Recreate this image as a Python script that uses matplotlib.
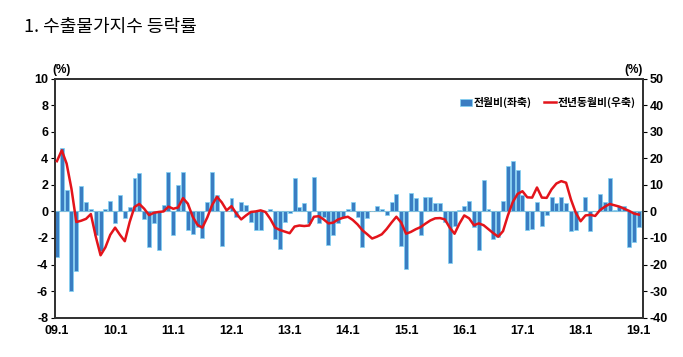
import numpy as np
import matplotlib.pyplot as plt
from matplotlib.patches import Patch
from matplotlib.lines import Line2D

# monthly export price index change, 2009.1 - 2019.1
mom = [-3.4, 4.8, 1.6, -6.0, -4.5, 1.9, 0.7, 0.2, -1.8, -3.0,
       0.2, 0.8, -0.9, 1.2, -0.5, 0.3, 2.5, 2.9, -0.6, -2.7,
       -0.9, -2.9, 0.5, 3.0, -1.8, 2.0, 3.0, -1.4, -1.7, -1.2,
       -2.0, 0.7, 3.0, 1.2, -2.6, 0.0, 1.0, -0.4, 0.7, 0.5,
       -0.8, -1.4, -1.4, 0.0, 0.2, -2.1, -2.8, -0.8, -0.1, 2.5,
       0.3, 0.6, -0.9, 2.6, -0.9, -0.4, -2.5, -1.8, -0.9, -0.4,
       0.2, 0.7, -0.4, -2.7, -0.5, 0.0, 0.4, 0.2, -0.3, 0.7,
       1.3, -2.6, -4.3, 1.4, 1.0, -1.8, 1.1, 1.1, 0.6, 0.6,
       -0.8, -3.9, -1.1, 0.1, 0.4, 0.8, -1.2, -2.9, 2.4, 0.2,
       -2.1, -1.9, 0.8, 3.4, 3.8, 3.1, 1.2, -1.4, -1.3, 0.7,
       -1.1, -0.3, 1.1, 0.6, 1.1, 0.6, -1.5, -1.4, 0.0, 1.1,
       -1.5, 0.0, 1.3, 0.7, 2.5, 0.1, 0.4, 0.4, -2.7, -2.3,
       -1.2]

yoy = [18.9, 23.0, 18.0, 8.5, -4.0, -3.5, -2.8, -1.0, -9.4, -16.5,
       -13.5, -8.8, -6.1, -8.8, -11.2, -4.0, 1.7, 2.8, 1.0, -1.4,
       -0.5, -0.2, 0.0, 1.8, 1.0, 1.5, 5.0, 2.9, -2.0, -5.1,
       -6.1, -2.3, 2.4, 5.5, 3.4, 0.4, 2.0, -0.8, -3.0, -1.5,
       -0.2, 0.0, 0.4, -0.2, -2.8, -6.1, -7.0, -7.6, -8.2, -5.7,
       -5.3, -5.5, -5.3, -2.0, -1.8, -3.0, -4.5, -4.2, -3.0, -2.4,
       -2.0, -3.2, -4.9, -7.1, -8.6, -10.2, -9.5, -8.6, -6.6, -4.2,
       -2.0, -4.2, -8.4, -7.7, -6.7, -5.9, -4.6, -3.4, -2.6, -2.5,
       -3.0, -6.1, -8.4, -4.6, -1.5, -2.6, -5.2, -4.5, -5.2, -6.7,
       -8.2, -9.5, -7.4, -1.5, 3.5, 6.6, 7.6, 5.3, 5.2, 9.0,
       5.2, 5.1, 8.3, 10.5, 11.4, 10.8, 4.5, -0.5, -3.7, -1.5,
       -1.3, -1.7, 0.5, 1.8, 2.8, 2.3, 1.8, 1.0, 0.2, -0.8,
       -1.2]

year_labels = ['09.1', '10.1', '11.1', '12.1', '13.1', '14.1',
               '15.1', '16.1', '17.1', '18.1', '19.1']

kr = ['Noto Sans CJK KR', 'DejaVu Sans']
num = ['Liberation Sans Narrow', 'Liberation Sans', 'DejaVu Sans']

x = np.arange(len(mom))

fig = plt.figure(figsize=(6.83, 3.57), dpi=100)
ax = fig.add_axes([0.0805, 0.110, 0.8605, 0.670])
ax2 = ax.twinx()

ax.bar(x, mom, width=0.82, color='#3a7dc2', edgecolor='#7fd3f5',
       linewidth=0.5, zorder=2)
ax.axhline(0, color='#a0a0a0', lw=0.8, zorder=1)
ax2.plot(x, yoy, color='#e3141b', lw=1.8, zorder=3)

ax.set_xlim(-0.4, len(mom) - 0.2)
ax.set_ylim(-8, 10)
ax2.set_ylim(-40, 50)

ax.set_yticks(np.arange(-8, 11, 2))
ax.set_yticklabels([str(v) for v in range(-8, 11, 2)], family=num,
                   fontweight='bold', fontsize=9)
ax2.set_yticks(np.arange(-40, 51, 10))
ax2.set_yticklabels([str(v) for v in range(-40, 51, 10)], family=num,
                    fontweight='bold', fontsize=9)
ax.set_xticks(np.arange(0, len(mom), 12))
ax.set_xticklabels(year_labels, family=num, fontweight='bold', fontsize=9)

ax.tick_params(axis='x', length=0, pad=5)
ax.tick_params(axis='y', direction='out', length=3, width=0.8, pad=2)
ax2.tick_params(axis='y', direction='out', length=3, width=0.8, pad=2)

for a in (ax, ax2):
    for s in a.spines.values():
        s.set_color('#333333')
        s.set_linewidth(1.3)

ax.text(0.012, 1.035, '(%)', transform=ax.transAxes, family=num,
        fontweight='bold', fontsize=8.5, ha='center', va='center')
ax.text(0.985, 1.035, '(%)', transform=ax.transAxes, family=num,
        fontweight='bold', fontsize=8.5, ha='center', va='center')

fig.text(0.035, 0.925, '1. 수출물가지수 등락률', family=kr, fontsize=13,
         fontweight='medium', ha='left', va='center')

handles = [Patch(facecolor='#3a7dc2', edgecolor='#7fd3f5', lw=0.5),
           Line2D([], [], color='#e3141b', lw=1.8)]
leg = ax2.legend(handles, ['전월비(좌축)', '전년동월비(우축)'], ncol=2,
                 loc='center right', bbox_to_anchor=(1.004, 0.9),
                 frameon=False, handlelength=1.1, handleheight=0.6,
                 handletextpad=0.15, columnspacing=1.1,
                 prop={'family': kr, 'size': 7.8, 'weight': 'bold'})

plt.savefig('out.png', dpi=100)
